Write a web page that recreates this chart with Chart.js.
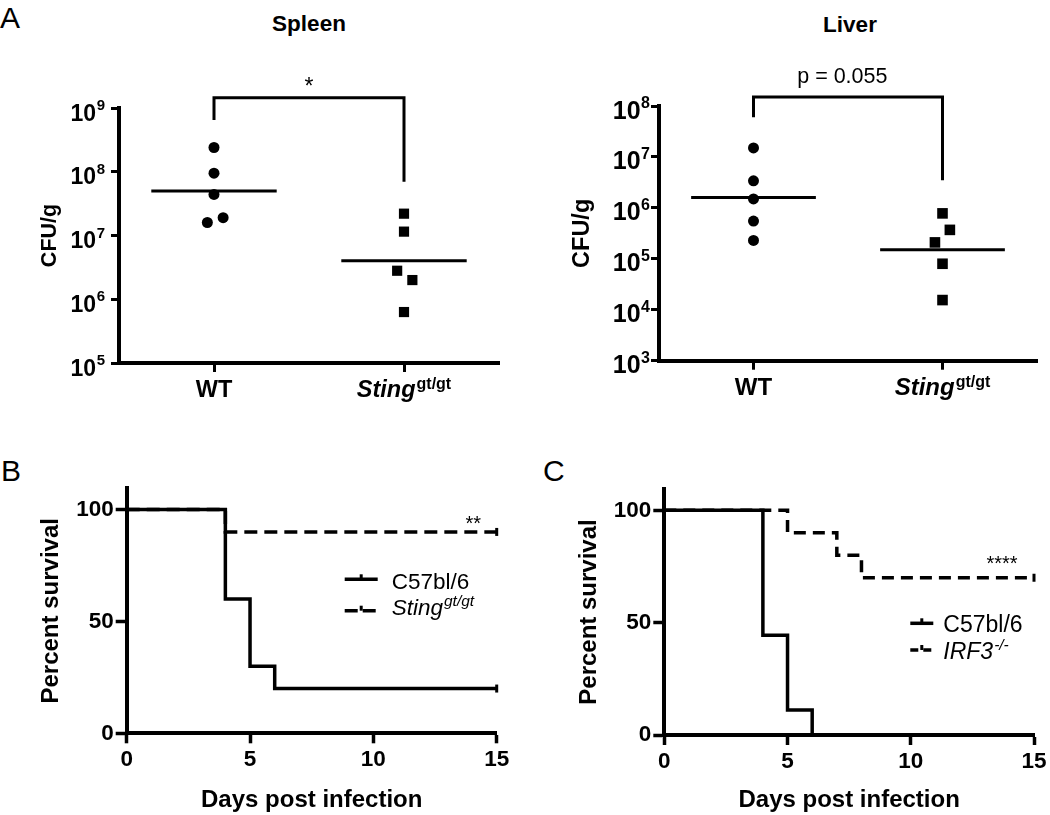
<!DOCTYPE html>
<html><head><meta charset="utf-8">
<script src="https://cdn.jsdelivr.net/npm/chart.js@4.4.0/dist/chart.umd.min.js"></script>
<style>
html,body{margin:0;padding:0;background:#fff;}
body{width:1050px;height:815px;position:relative;overflow:hidden;font-family:"Liberation Sans",Arial,sans-serif;color:#000;}
canvas{position:absolute;}
.lbl{position:absolute;font-size:30px;line-height:30px;}
.ttl{position:absolute;width:200px;text-align:center;font-weight:bold;font-size:22.5px;line-height:22px;}
</style></head><body>
<div class="lbl" style="left:0px;top:2.6px">A</div>
<div class="lbl" style="left:1px;top:456px">B</div>
<div class="lbl" style="left:543px;top:456px">C</div>
<div class="ttl" style="left:209px;top:13px">Spleen</div>
<div class="ttl" style="left:750px;top:13.5px">Liver</div>
<canvas id="spleen" width="525" height="420" style="left:0;top:0"></canvas>
<canvas id="liver" width="525" height="420" style="left:525px;top:0"></canvas>
<canvas id="survB" width="525" height="395" style="left:0;top:420px"></canvas>
<canvas id="survC" width="525" height="395" style="left:525px;top:420px"></canvas>
<script>
// ---------- data ----------
const groupNames = ['WT', 'Sting'];
const groupPos = [1, 2];

const spleenWT = [2.4e8, 9.5e7, 4.4e7, 1.6e7, 1.9e7];
const spleenWTJitter = [0, 0, 0, -0.035, 0.048];
const spleenSting = [2.2e7, 1.15e7, 2.8e6, 2.0e6, 6.3e5];
const spleenStingJitter = [0, 0, -0.036, 0.044, 0];
const spleenMeans = [5.0e7, 4.0e6];
const spleenTicks = [1e5, 1e6, 1e7, 1e8, 1e9];

const liverWT = [1.5e7, 3.4e6, 1.5e6, 5.5e5, 2.3e5];
const liverWTJitter = [0, 0, 0, 0, 0];
const liverSting = [7.8e5, 3.7e5, 2.1e5, 8.0e4, 1.55e4];
const liverStingJitter = [0, 0.039, -0.04, 0, 0];
const liverMeans = [1.6e6, 1.5e5];
const liverTicks = [1e3, 1e4, 1e5, 1e6, 1e7, 1e8];

const daysTicks = [0, 5, 10, 15];
const survivalTicks = [0, 50, 100];

const bDaysC57 = [0, 4, 5, 6, 15];
const bSurvC57 = [100, 60, 30, 20, 20];
const bDaysSting = [0, 4, 15];
const bSurvSting = [100, 90, 90];

const cDaysC57 = [0, 4, 5, 6];
const cSurvC57 = [100, 44.4, 11.1, 0];
const cDaysIRF3 = [0, 5, 7, 8, 15];
const cSurvIRF3 = [100, 90, 80, 70, 70];

// ---------- helpers ----------
const FAM = '"Liberation Sans", Arial, sans-serif';
function fnt(size, weight, style){ return (style||'normal') + ' ' + (weight||'normal') + ' ' + size + 'px ' + FAM; }
function drawRich(ctx, parts, x, y, align){
  ctx.save();
  ctx.textBaseline = 'alphabetic'; ctx.textAlign = 'left'; ctx.fillStyle = '#000';
  let w = 0;
  parts.forEach(p => { ctx.font = p.font; p.w = ctx.measureText(p.text).width; w += p.w + (p.gap||0); });
  let cx = align === 'center' ? x - w/2 : (align === 'right' ? x - w : x);
  parts.forEach(p => { ctx.font = p.font; cx += (p.gap||0); ctx.fillText(p.text, cx, y + (p.dy||0)); cx += p.w; });
  ctx.restore();
}
function pts(xs, ys){ return xs.map((x,i)=>({x:x, y:ys[i]})); }

// ---------- dot plots (log scale) ----------
function dotChart(id, c){
  const deco = {
    id: 'deco_' + id,
    afterDraw(chart){
      const ctx = chart.ctx, xs = chart.scales.x, ys = chart.scales.y;
      // y tick labels 10^n
      ys.ticks.forEach(t => {
        const py = ys.getPixelForValue(t.value);
        const e = Math.round(Math.log10(t.value));
        drawRich(ctx, [
          {text:'10', font:fnt(c.tickSize,'bold')},
          {text:String(e), font:fnt(c.supSize,'bold'), dy:-10.5, gap:0.5}
        ], ys.right - c.yLabelGap, py + 12.5, 'right');
      });
      // x category labels
      const base = xs.top + 34;
      drawRich(ctx, [{text:groupNames[0], font:fnt(c.xSize,'bold')}], xs.getPixelForValue(groupPos[0]), base, 'center');
      drawRich(ctx, [
        {text:groupNames[1], font:fnt(c.xSize,'bold','italic')},
        {text:'gt/gt', font:fnt(16,'bold'), dy:-8, gap:1}
      ], xs.getPixelForValue(groupPos[1]), base, 'center');
      // significance bracket
      const x1 = xs.getPixelForValue(groupPos[0]), x2 = xs.getPixelForValue(groupPos[1]);
      const yt = ys.getPixelForValue(c.bracketTop);
      ctx.save();
      ctx.strokeStyle = '#000'; ctx.lineWidth = 3; ctx.lineJoin = 'miter'; ctx.lineCap = 'butt';
      ctx.beginPath();
      ctx.moveTo(x1, ys.getPixelForValue(c.bracketEnds[0]));
      ctx.lineTo(x1, yt); ctx.lineTo(x2, yt);
      ctx.lineTo(x2, ys.getPixelForValue(c.bracketEnds[1]));
      ctx.stroke();
      ctx.restore();
      drawRich(ctx, [{text:c.sigText, font:fnt(c.sigSize)}], xs.getPixelForValue(c.sigX), ys.getPixelForValue(c.sigY), 'center');
    }
  };
  const mk = (vals, jit, pos) => vals.map((v,i)=>({x:pos + jit[i], y:v}));
  const meanLine = (m, pos) => [{x:pos - 0.33, y:m}, {x:pos + 0.33, y:m}];
  new Chart(document.getElementById(id), {
    type: 'scatter',
    data: { datasets: [
      {data: mk(c.wt, c.wtJ, groupPos[0]), pointStyle:'circle', pointRadius:c.cr, backgroundColor:'#000', borderColor:'#000', borderWidth:0, clip:false},
      {data: mk(c.st, c.stJ, groupPos[1]), pointStyle:'rect', pointRadius:c.sr, backgroundColor:'#000', borderColor:'#000', borderWidth:0, clip:false},
      {type:'line', data: meanLine(c.means[0], groupPos[0]), borderColor:'#000', borderWidth:3, pointRadius:0, clip:false},
      {type:'line', data: meanLine(c.means[1], groupPos[1]), borderColor:'#000', borderWidth:3, pointRadius:0, clip:false}
    ]},
    options: {
      responsive:false, animation:false, events:[],
      layout:{padding:{left:10, top:c.padT, right:c.padR, bottom:c.padB}},
      plugins:{legend:{display:false}, tooltip:{enabled:false}},
      scales:{
        x:{type:'linear', min:0.5, max:2.5,
           afterBuildTicks(s){ s.ticks = groupPos.map(v=>({value:v})); },
           afterFit(s){ s.height = 40; },
           ticks:{display:false},
           grid:{drawOnChartArea:false, drawTicks:true, tickLength:9, tickWidth:3, color:'#000'},
           border:{display:true, color:'#000', width:4}},
        y:{type:'logarithmic', min:c.ticks[0], max:c.ticks[c.ticks.length-1],
           afterBuildTicks(s){ s.ticks = c.ticks.map(v=>({value:v})); },
           afterFit(s){ s.width = c.yW; },
           ticks:{display:false},
           grid:{drawOnChartArea:false, drawTicks:true, tickLength:8, tickWidth:3, color:'#000'},
           border:{display:true, color:'#000', width:4},
           title:{display:true, text:'CFU/g', color:'#000', font:{family:FAM, size:c.titleSize, weight:'bold'}, padding:{top:c.titlePad, bottom:0}}}
      }
    },
    plugins:[deco]
  });
}

dotChart('spleen', {
  wt: spleenWT, wtJ: spleenWTJitter, st: spleenSting, stJ: spleenStingJitter, means: spleenMeans, ticks: spleenTicks,
  padT:108, padR:26, padB:17, yW:109, cr:5.5, sr:7.2,
  tickSize:23, supSize:15, yLabelGap:14, titleSize:21.5, titlePad:27, xSize:23.5,
  bracketTop:1.45e9, bracketEnds:[6.5e8, 7e7], sigText:'*', sigSize:23, sigX:1.5, sigY:1.63e9
});
dotChart('liver', {
  wt: liverWT, wtJ: liverWTJitter, st: liverSting, stJ: liverStingJitter, means: liverMeans, ticks: liverTicks,
  padT:106, padR:13, padB:19.3, yW:124, cr:5.5, sr:7.5,
  tickSize:25, supSize:16, yLabelGap:9, titleSize:23.5, titlePad:33, xSize:24,
  bracketTop:1.5e8, bracketEnds:[6e7, 3.5e6], sigText:'p = 0.055', sigSize:21.5, sigX:1.47, sigY:2.8e8
});

// ---------- survival curves ----------
function survChart(id, c){
  const deco = {
    id: 'deco_' + id,
    afterDraw(chart){
      const ctx = chart.ctx, a = chart.chartArea, xs = chart.scales.x, ys = chart.scales.y;
      drawRich(ctx, [{text:c.sigText, font:fnt(20)}], xs.getPixelForValue(c.sigX), ys.getPixelForValue(c.sigY), 'center');
      c.legend.forEach(L => {
        const y = a.top + L.ly;
        ctx.save();
        ctx.strokeStyle = '#000'; ctx.lineWidth = 3.5; ctx.lineCap = 'butt';
        ctx.setLineDash(L.dash);
        ctx.beginPath(); ctx.moveTo(a.left + c.lx0, y); ctx.lineTo(a.left + c.lx1, y); ctx.stroke();
        ctx.setLineDash([]); ctx.lineWidth = 3;
        const mx = a.left + (c.lx0 + c.lx1)/2;
        ctx.beginPath(); ctx.moveTo(mx, y); ctx.lineTo(mx, y - 5); ctx.stroke();
        ctx.restore();
        drawRich(ctx, L.parts, a.left + c.tx, a.top + L.ty, 'left');
      });
    }
  };
  const censor = (n) => (ctx) => (ctx.dataIndex === n - 1 && c.censorLast[ctx.datasetIndex]) ? 4 : 0;
  new Chart(document.getElementById(id), {
    type:'line',
    data:{datasets:[
      {label:c.names[0], data:c.s1, stepped:'before', borderColor:'#000', borderWidth:3.5, fill:false,
       pointStyle:'line', rotation:90, pointRadius:censor(c.s1.length), pointBorderWidth:3, pointBorderColor:'#000', clip:false, order:0},
      {label:c.names[1], data:c.s2, stepped:'before', borderColor:'#000', borderWidth:3.5, borderDash:c.dash, fill:false,
       pointStyle:'line', rotation:90, pointRadius:censor(c.s2.length), pointBorderWidth:3, pointBorderColor:'#000', clip:false, order:1}
    ]},
    options:{
      responsive:false, animation:false, events:[],
      layout:{padding:{left:0, top:c.padT, right:c.padR, bottom:0}},
      plugins:{legend:{display:false}, tooltip:{enabled:false}},
      scales:{
        x:{type:'linear', min:0, max:15,
           afterBuildTicks(s){ s.ticks = daysTicks.map(v=>({value:v})); },
           afterFit(s){ s.height = c.xH; },
           ticks:{color:'#000', font:{family:FAM, size:22.5, weight:'bold'}, padding:3, maxRotation:0, autoSkip:false},
           grid:{drawOnChartArea:false, drawTicks:true, tickLength:10, tickWidth:3.5, color:'#000'},
           border:{display:true, color:'#000', width:4},
           title:{display:true, text:'Days post infection', color:'#000', font:{family:FAM, size:24, weight:'bold'}, padding:{top:0, bottom:0}}},
        y:{type:'linear', min:0, max:109.5,
           afterBuildTicks(s){ s.ticks = survivalTicks.map(v=>({value:v})); },
           afterFit(s){ s.width = c.yW; },
           ticks:{color:'#000', font:{family:FAM, size:22.5, weight:'bold'}, padding:2},
           grid:{drawOnChartArea:false, drawTicks:true, tickLength:11, tickWidth:3.5, color:'#000'},
           border:{display:true, color:'#000', width:4},
           title:{display:true, text:'Percent survival', color:'#000', font:{family:FAM, size:24, weight:'bold'}, padding:{top:c.yTitlePad, bottom:0}}}
      }
    },
    plugins:[deco]
  });
}

survChart('survB', {
  names:['C57bl/6', 'Sting gt/gt'],
  s1: pts(bDaysC57, bSurvC57), s2: pts(bDaysSting, bSurvSting), dash:[13, 7], censorLast:[true, true],
  padT:68.3, padR:28.3, xH:81.7, yW:126.7, yTitlePad:37,
  sigText:'**', sigX:14.05, sigY:91,
  lx0:218, lx1:251, tx:265,
  legend:[
    {ly:91, ty:101, dash:[], parts:[{text:'C57bl/6', font:fnt(22.5)}]},
    {ly:122.4, ty:127, dash:[13, 5], parts:[{text:'Sting', font:fnt(22.5,'normal','italic')}, {text:'gt/gt', font:fnt(15.5,'normal','italic'), dy:-9, gap:1}]}
  ]
});
survChart('survC', {
  names:['C57bl/6', 'IRF3-/-'],
  s1: pts(cDaysC57, cSurvC57), s2: pts(cDaysIRF3, cSurvIRF3), dash:[12, 7], censorLast:[false, true],
  padT:69, padR:16, xH:80, yW:139.3, yTitlePad:50,
  sigText:'****', sigX:13.7, sigY:73.4,
  lx0:246, lx1:269, tx:279,
  legend:[
    {ly:134.3, ty:142.7, dash:[], parts:[{text:'C57bl/6', font:fnt(23)}]},
    {ly:161, ty:170.3, dash:[8, 5], parts:[{text:'IRF3', font:fnt(23,'normal','italic')}, {text:'-/-', font:fnt(15.5,'normal','italic'), dy:-9, gap:1}]}
  ]
});
</script>
</body></html>
